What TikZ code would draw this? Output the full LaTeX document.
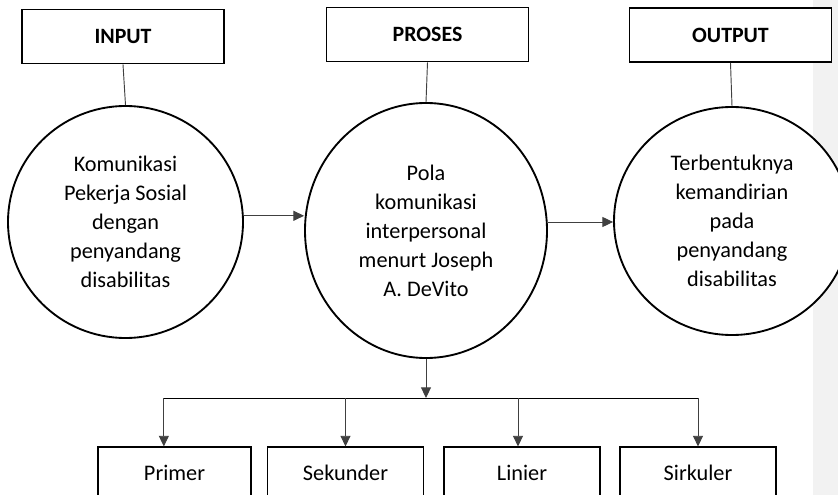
\documentclass[tikz,border=0pt]{standalone}
\usepackage{fontspec}
\setmainfont{Carlito}
\usetikzlibrary{arrows.meta,shapes.geometric}
\definecolor{sidegrey}{RGB}{242,242,242}
\definecolor{linegrey}{RGB}{64,64,64}
\newcommand{\circtext}{\fontsize{16.7}{21.75}\selectfont}
\newcommand{\headtext}{\fontsize{16.4}{20}\selectfont\bfseries}

\begin{document}
\begin{tikzpicture}[x=0.75pt,y=-0.75pt,
  headbox/.style={draw,line width=1.4pt,fill=white,minimum width=151.5pt,minimum height=40.5pt,font=\headtext},
  stage/.style={ellipse,draw,line width=1.4pt,fill=white,inner sep=0pt,align=center,font=\circtext},
  typebox/.style={draw,line width=0.8pt,fill=white,minimum height=39pt,font=\circtext},
  link/.style={linegrey,line width=0.7pt},
  arr/.style={link,-{Triangle[length=8pt,width=7.5pt]}}]
  % page and grey side margin
  \clip (0,0) rectangle (838,495);
  \fill[sidegrey] (813,0) rectangle (838,495);

  % headers
  \node[headbox] (inbox) at (123,36.5) {INPUT};
  \node[headbox] (probox) at (427.5,34.5) {PROSES};
  \node[headbox] (outbox) at (730.5,35) {OUTPUT};

  % the three stages
  \node[stage,minimum width=176.25pt,minimum height=174pt] (incirc) at (125.5,222)
    {Komunikasi\\Pekerja Sosial\\dengan\\penyandang\\disabilitas};
  \node[stage,minimum width=181.5pt,minimum height=191.25pt] (procirc) at (426,230.5)
    {Pola\\komunikasi\\interpersonal\\menurt Joseph\\A. DeVito};
  \node[stage,minimum width=177pt,minimum height=171pt] (outcirc) at (732,221)
    {Terbentuknya\\kemandirian\\pada\\penyandang\\disabilitas};

  % the four patterns (cut by the page bottom)
  \node[typebox,minimum width=114.75pt] (primer) at (174.5,473) {Primer};
  \node[typebox,minimum width=117pt] (sekunder) at (345.5,473) {Sekunder};
  \node[typebox,minimum width=117pt] (linier) at (522,473) {Linier};
  \node[typebox,minimum width=117pt] (sirkuler) at (698,473) {Sirkuler};

  % header to stage
  \draw[link] (inbox.south) -- (incirc.north);
  \draw[link] (probox.south) -- (procirc.north);
  \draw[link] (outbox.south) -- (outcirc.north);

  % stage to stage
  \draw[arr] (incirc.3) -- (incirc.3 -| procirc.west);
  \draw[arr] (procirc.4) -- (procirc.4 -| outcirc.west);

  % split into the patterns
  \coordinate (busL) at ([xshift=-8pt]primer.north |- 0,398);
  \coordinate (busR) at (sirkuler.north |- 0,398);
  \draw[arr] (procirc.south) -- (procirc.south |- busL);
  \draw[black,line width=0.7pt] (busL) -- (busR);
  \draw[arr] (busL) -- (busL |- primer.north);
  \draw[arr] (sekunder.north |- busL) -- (sekunder.north);
  \draw[arr] ([xshift=-3pt]linier.north |- busL) -- ([xshift=-3pt]linier.north);
  \draw[arr] (busR) -- (sirkuler.north);
\end{tikzpicture}
\end{document}
